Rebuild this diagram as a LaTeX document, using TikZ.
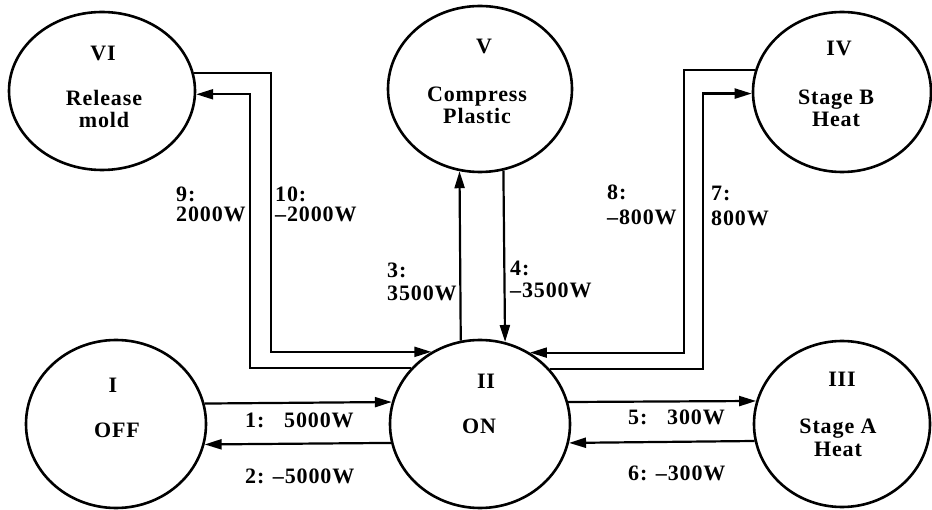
\documentclass[tikz,border=0pt]{standalone}
\usepackage{fontspec}
\setmainfont{Liberation Serif}[LetterSpace=4]
\usetikzlibrary{arrows.meta,shapes.geometric}
\begin{document}
\begin{tikzpicture}[x=1pt,y=1pt,
  st/.style={draw, ellipse, line width=2.6pt, inner sep=0pt},
  lbl/.style={font=\fontsize{22}{25}\selectfont\bfseries, inner sep=0pt},
  conn/.style={line width=2.2pt, -{Triangle[length=17pt,width=10pt]}}]
\useasboundingbox (0,0) rectangle (932,509);
% states
\node[st, minimum width=186pt, minimum height=158pt] (VI) at (102,418) {};
\node[st, minimum width=184pt, minimum height=166pt] (V) at (480,420) {};
\node[st, minimum width=178pt, minimum height=160pt] (IV) at (842,417) {};
\node[st, minimum width=180pt, minimum height=168pt] (I) at (116,85) {};
\node[st, minimum width=180pt, minimum height=168pt] (II) at (480,85) {};
\node[st, minimum width=176pt, minimum height=166pt] (III) at (842,85) {};
% state texts
\node[lbl] (tVI) at (103,456) {VI};
\node[lbl, align=center] (tVIb) at (104,400) {Release\\[-3pt]mold};
\node[lbl] (tV) at (484,463) {V};
\node[lbl, align=center] (tVb) at (477,403.5) {Compress\\[-3pt]Plastic};
\node[lbl] (tIV) at (839,460.5) {IV};
\node[lbl, align=center] (tIVb) at (836,400.5) {Stage B\\[-3pt]Heat};
\node[lbl] (tI) at (113,124) {I};
\node[lbl] (tIb) at (117,79) {OFF};
\node[lbl] (tII) at (486,128) {II};
\node[lbl] (tIIb) at (479,83) {ON};
\node[lbl] (tIII) at (842,129.5) {III};
\node[lbl, align=center] (tIIIb) at (838,71.5) {Stage A\\[-2pt]Heat};
% connectors
\coordinate (c9) at (250,0);
\coordinate (c10) at (271,0);
\coordinate (c8) at (684,0);
\coordinate (c7) at (703,0);
\draw[conn] (I.13.55) -- (II.166.45);
\draw[conn] (II.192.89) -- (I.347.11);
\draw[conn] (II.14.21) -- (III.165.46);
\draw[conn] (III.191.83) -- (II.348.43);
\draw[conn] (II.103.72) -- (V.256.13);
\draw[conn] (V.286.67) -- (II.73.49);
\draw[conn] (II.141.93) -| (c9 |- VI.358.77) -- (VI.358.77);
\draw[conn] (VI.11.24) -| (c10 |- II.124.11) -- (II.124.11);
\draw[conn] (IV.166.93) -| (c8 |- II.55.89) -- (II.55.89);
\draw[conn] (II.38.07) -| (c7 |- IV.181.93) -- (IV.181.93);
% labels
\node[lbl, anchor=west] (l1) at (245,89) {1:\hspace{0.9em}5000W};
\node[lbl, anchor=west] (l2) at (245,33) {2: \textendash5000W};
\node[lbl, anchor=west] (l5) at (628,92) {5:\hspace{0.9em}300W};
\node[lbl, anchor=west] (l6) at (628,36) {6: \textendash300W};
\node[lbl, anchor=west, align=left] (l3) at (387,227.5) {3:\\[-2pt]3500W};
\node[lbl, anchor=west, align=left] (l4) at (510,229.5) {4:\\[-3pt]\textendash3500W};
\node[lbl, anchor=west, align=left] (l9) at (176,304.5) {9:\\[-5pt]2000W};
\node[lbl, anchor=west, align=left] (l10) at (275,304.5) {10:\\[-5pt]\textendash2000W};
\node[lbl, anchor=west, align=left] (l8) at (607,304.5) {8:\\\textendash800W};
\node[lbl, anchor=west, align=left] (l7) at (711,303.5) {7:\\800W};
\end{tikzpicture}
\end{document}
